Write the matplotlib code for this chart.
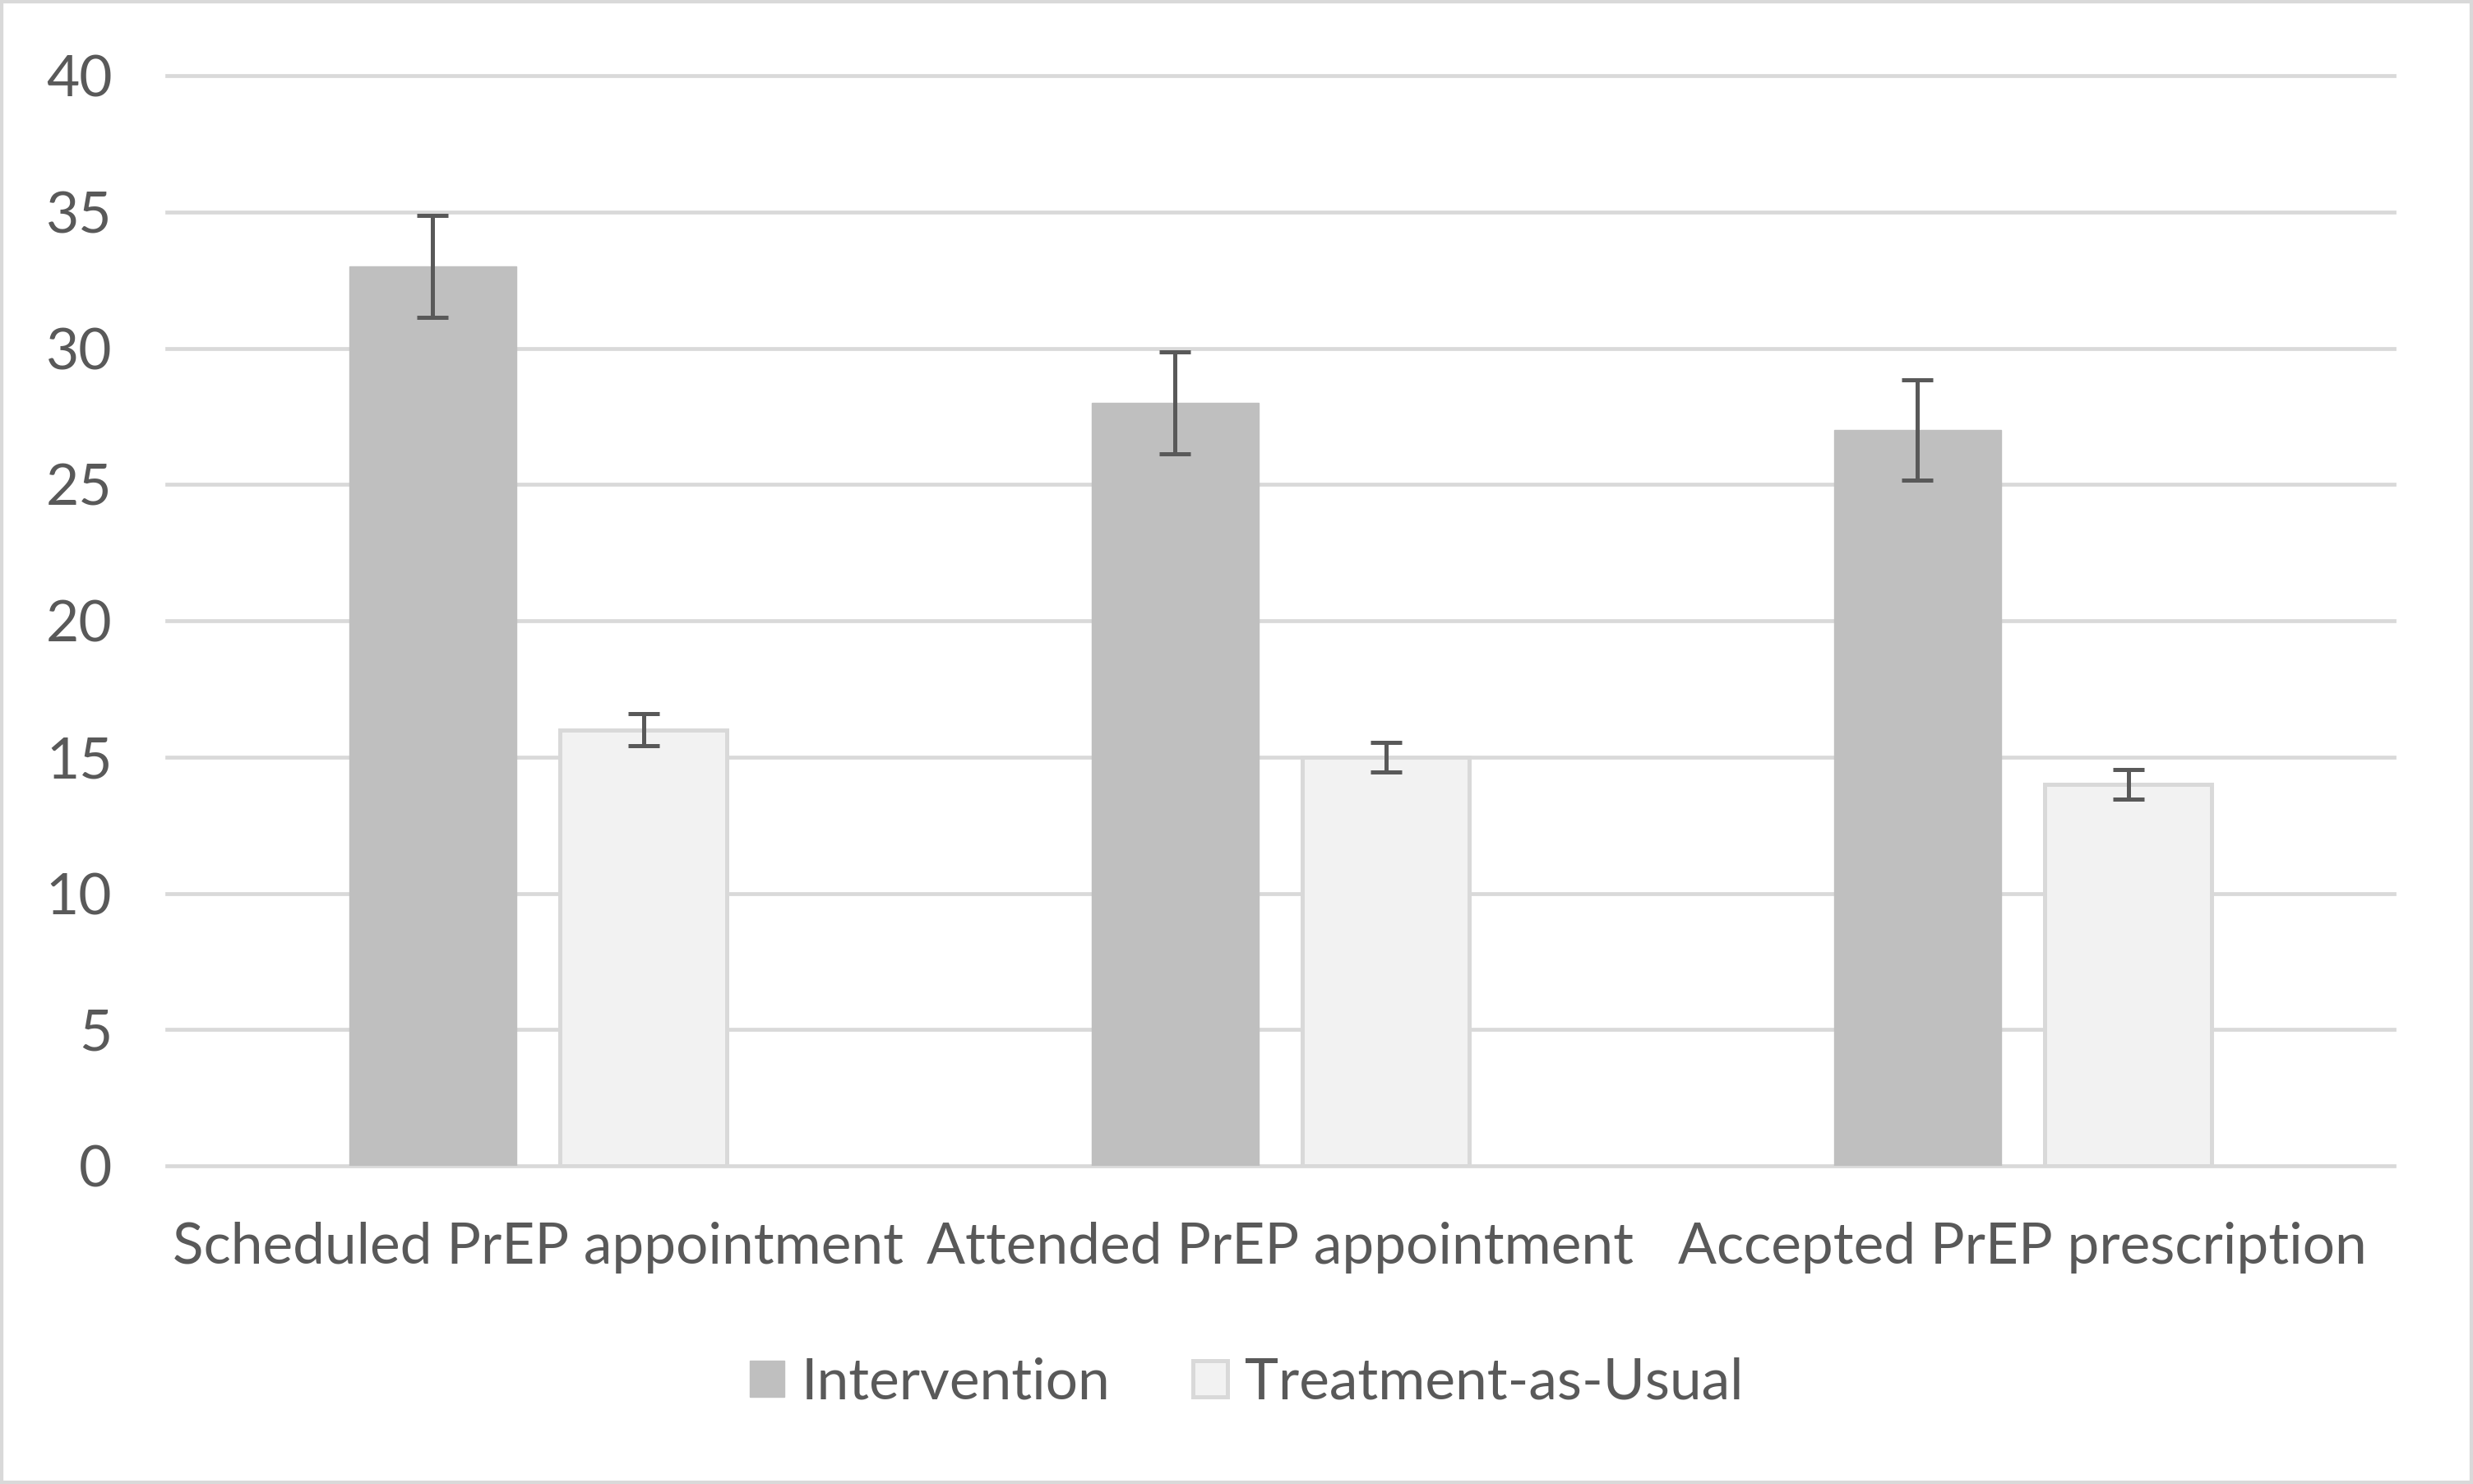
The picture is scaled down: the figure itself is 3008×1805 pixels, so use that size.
import numpy as np
import matplotlib
matplotlib.use("Agg")
import matplotlib.pyplot as plt
from matplotlib.patches import Rectangle

categories = ["Scheduled PrEP appointment", "Attended PrEP appointment", "Accepted PrEP prescription"]
series_names = ["Intervention", "Treatment-as-Usual"]
intervention = [33, 28, 27]
intervention_err = [1.86, 1.88, 1.83]
usual = [16, 15, 14]
usual_err = [0.58, 0.55, 0.55]
y_ticks = [0, 5, 10, 15, 20, 25, 30, 35, 40]

TEXT = "#595959"
GRID = "#D9D9D9"
FS = 50

plt.rcParams["font.family"] = ["Lato", "DejaVu Sans"]

fig = plt.figure(figsize=(30.08, 18.05), dpi=100)
ax = fig.add_axes([0.0675, 0.2144, 0.968 - 0.0675, 0.949 - 0.2144])

x = np.arange(len(categories))
width = 0.225
offset = 0.142

ax.bar(x - offset, intervention, width, color="#BFBFBF", edgecolor="#BFBFBF",
       linewidth=1, label=series_names[0], zorder=2)
ax.bar(x + offset, usual, width, color="#F2F2F2", edgecolor=GRID,
       linewidth=3.6, label=series_names[1], zorder=2)

err_kw = dict(fmt="none", ecolor=TEXT, elinewidth=3.6, capsize=13.7, capthick=3.6, zorder=3)
ax.errorbar(x - offset, intervention, yerr=intervention_err, **err_kw)
ax.errorbar(x + offset, usual, yerr=usual_err, **err_kw)

ax.set_xlim(-0.5, 2.5)
ax.set_ylim(0, 40)
ax.set_yticks(y_ticks)
ax.set_xticks(x)
ax.set_xticklabels(categories)
ax.tick_params(axis="both", length=0, labelsize=FS, labelcolor=TEXT)
ax.tick_params(axis="y", pad=48)
ax.tick_params(axis="x", pad=49)

ax.grid(axis="y", color=GRID, linewidth=3.4)
ax.set_axisbelow(True)
for gl in ax.get_ygridlines():
    gl.set_clip_on(False)
for side in ["top", "right", "left", "bottom"]:
    ax.spines[side].set_visible(False)

fig.legend(loc="center", bbox_to_anchor=(0.504, 0.068), ncol=2, frameon=False,
           fontsize=FS, labelcolor=TEXT, handlelength=0.6, handleheight=0.6,
           handletextpad=0.3, columnspacing=1.45)

fig.patches.append(Rectangle((0, 0), 1, 1, transform=fig.transFigure, fill=False,
                             edgecolor=GRID, linewidth=6))

fig.savefig("out.png", dpi=100, facecolor="white")
